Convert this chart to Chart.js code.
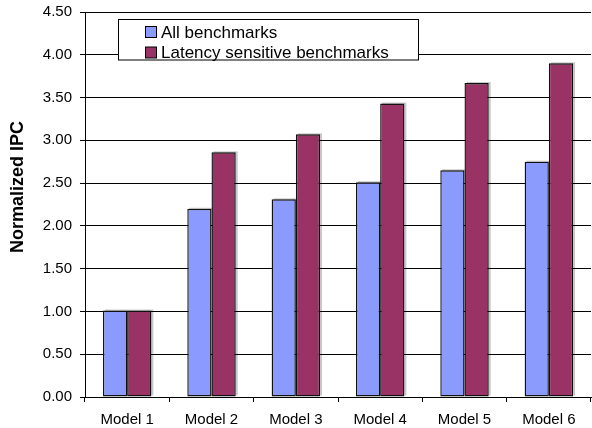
<!DOCTYPE html>
<html>
<head>
<meta charset="utf-8">
<script src="https://cdn.jsdelivr.net/npm/chart.js@4/dist/chart.umd.min.js"></script>
<style>
  html, body { margin: 0; padding: 0; background: #fff; }
  #wrap { width: 592px; height: 428px; }
</style>
</head>
<body>
<div id="wrap"><canvas id="c" width="592" height="428"></canvas></div>
<script>
// Normalized IPC per processor model
const categories = ['Model 1', 'Model 2', 'Model 3', 'Model 4', 'Model 5', 'Model 6'];
const allBenchmarks = [1.01, 2.20, 2.31, 2.51, 2.65, 2.75];
const latencySensitive = [1.01, 2.86, 3.07, 3.43, 3.67, 3.90];
const seriesNames = ['All benchmarks', 'Latency sensitive benchmarks'];
const yTitle = 'Normalized IPC';

const FONT = '"Liberation Sans", Arial, sans-serif';
const colors = ['#8a9bfd', '#993366'];

// light grey offset shadow behind each bar, placed from the bar elements
const barShadow = {
  id: 'barShadow',
  beforeDatasetsDraw(chart) {
    const ctx = chart.ctx;
    ctx.save();
    ctx.fillStyle = 'rgba(0,0,0,0.22)';
    chart.data.datasets.forEach((ds, i) => {
      chart.getDatasetMeta(i).data.forEach(el => {
        const p = el.getProps(['x', 'y', 'base', 'width'], true);
        ctx.fillRect(p.x - p.width / 2 + 2, p.y - 1, p.width, p.base - p.y);
      });
    });
    ctx.restore();
  }
};

// boxed legend inside the plot area plus the rotated axis title
const boxedLegend = {
  id: 'boxedLegend',
  afterDraw(chart) {
    const ctx = chart.ctx;
    ctx.save();
    ctx.fillStyle = '#fff';
    ctx.fillRect(118.5, 19.5, 300, 40.5);
    ctx.strokeStyle = '#000';
    ctx.lineWidth = 1;
    ctx.strokeRect(118.5, 19.5, 300, 40.5);
    const rows = [32, 52.5];
    ctx.font = '17px ' + FONT;
    ctx.textBaseline = 'middle';
    chart.data.datasets.forEach((ds, i) => {
      const cy = rows[i];
      ctx.fillStyle = ds.backgroundColor;
      ctx.fillRect(145.5, cy - 5.5, 11, 11);
      ctx.strokeStyle = '#000';
      ctx.strokeRect(145.5, cy - 5.5, 11, 11);
      ctx.fillStyle = '#000';
      ctx.fillText(ds.label, 161, cy + 1);
    });
    ctx.translate(18.5, 187);
    ctx.rotate(-Math.PI / 2);
    ctx.font = 'bold 18px ' + FONT;
    ctx.textAlign = 'center';
    ctx.textBaseline = 'middle';
    ctx.fillStyle = '#000';
    ctx.fillText(yTitle, 0, 0);
    ctx.restore();
  }
};

new Chart(document.getElementById('c'), {
  type: 'bar',
  data: {
    labels: categories,
    datasets: [
      { label: seriesNames[0], data: allBenchmarks, backgroundColor: colors[0] },
      { label: seriesNames[1], data: latencySensitive, backgroundColor: colors[1] }
    ]
  },
  options: {
    responsive: false,
    animation: false,
    devicePixelRatio: 1,
    layout: { padding: { top: 12, right: 1, bottom: 0, left: 0 } },
    datasets: {
      bar: {
        borderColor: '#111',
        borderWidth: 1.4,
        borderSkipped: false,
        categoryPercentage: 0.574,
        barPercentage: 1.0
      }
    },
    plugins: {
      legend: { display: false },
      tooltip: { enabled: false }
    },
    scales: {
      x: {
        grid: { drawOnChartArea: false, drawTicks: true, tickLength: 5, color: '#000', offset: true },
        border: { color: '#000', width: 1 },
        ticks: { color: '#000', font: { family: FONT, size: 15 }, padding: 9, maxRotation: 0 },
        afterFit(s) { s.height = 31; s.paddingLeft = 0; s.paddingRight = 0; }
      },
      y: {
        min: 0,
        max: 4.5,
        grid: { color: '#000', lineWidth: 1, tickLength: 5 },
        border: { color: '#000', width: 1 },
        ticks: {
          stepSize: 0.5,
          color: '#000',
          padding: 8,
          font: { family: FONT, size: 15 },
          callback: v => Number(v).toFixed(2)
        },
        afterFit(s) { s.width = 85; s.paddingTop = 0; s.paddingBottom = 0; }
      }
    }
  },
  plugins: [barShadow, boxedLegend]
});
</script>
</body>
</html>
